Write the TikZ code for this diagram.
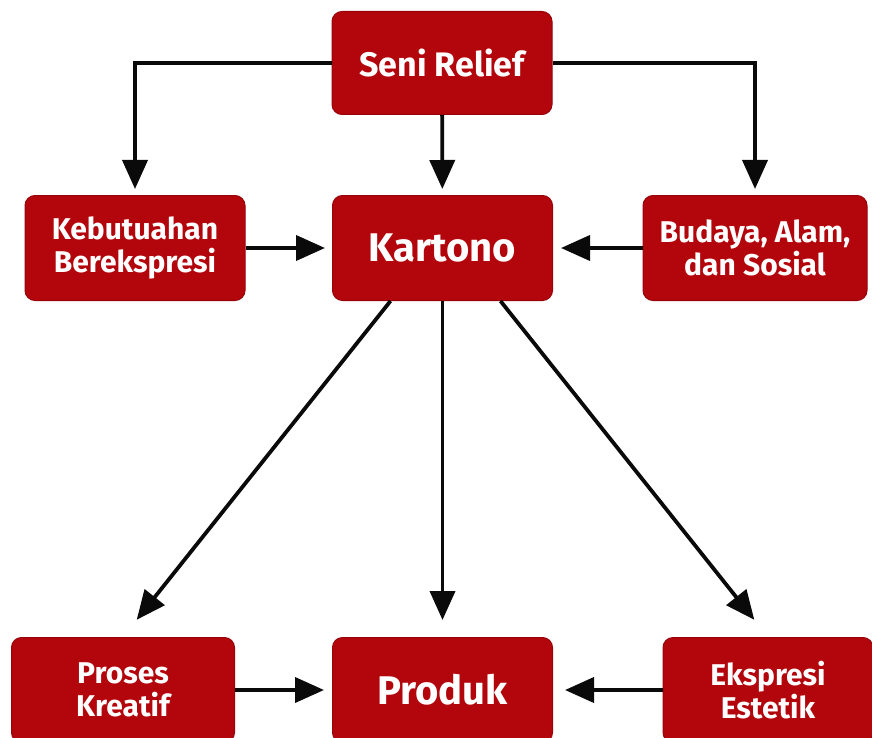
\documentclass[tikz,border=0pt]{standalone}
\usepackage{fontspec}
\setmainfont{Fira Sans}
\usetikzlibrary{arrows.meta,positioning}
\definecolor{krRed}{HTML}{B3050C}
\definecolor{krInk}{HTML}{0A0A0A}
\tikzset{
  % Red box, small text
  rbox/.style={rectangle,rounded corners=10pt,
    minimum width=220pt,minimum height=105pt,
    align=center,draw=krRed!85!black,fill=krRed,line width=1pt,
    font=\fontsize{30}{33}\selectfont\bfseries,text=white},
  % Red box, large text
  bigbox/.style={rbox,font=\fontsize{40}{46}\selectfont\bfseries},
  % Arrows
  arr/.style={-{Triangle[length=29pt,width=25pt]},line width=3.8pt,color=krInk},
}
\begin{document}
\begin{tikzpicture}[x=1pt,y=-1pt]
  \useasboundingbox (0,0) rectangle (872,738);
  \clip (0,0) rectangle (872,738);

  \node[rbox,font=\fontsize{34}{40}\selectfont\bfseries,minimum height=103pt] (seni) at (442,63) {Seni Relief};

  \node[rbox] (kebu) at (135,248) {Kebutuahan\\Berekspresi};
  \node[bigbox] (kart) at (442.5,248) {Kartono};
  \node[rbox,minimum width=224pt] (buda) at (755,248) {Budaya, Alam,\\dan Sosial};

  \node[rbox,minimum width=223pt] (pros) at (123,690) {Proses\\Kreatif};
  \node[bigbox] (prod) at (442.5,690) {Produk};
  \node[rbox,minimum width=210pt] (eksp) at (768,690) {Ekspresi\\Estetik};

  \draw[arr,shorten >=6pt] (seni.west) -| (kebu.north);
  \draw[arr,shorten >=6pt] (seni.east) -| (buda.north);
  \draw[arr,shorten >=6pt] (seni) -- (kart);

  \draw[arr,shorten >=7pt] (kebu) -- (kart);
  \draw[arr,shorten >=8pt] (buda) -- (kart);

  \draw[arr,shorten >=22pt] ([xshift=-52pt]kart.south) -- (pros.north);
  \draw[arr,shorten >=17pt] (kart) -- (prod);
  \draw[arr,shorten >=22pt] ([xshift=58pt]kart.south) -- (eksp.north);

  \draw[arr,shorten >=8pt] (pros) -- (prod);
  \draw[arr,shorten >=12pt] (eksp) -- (prod);

\end{tikzpicture}
\end{document}
